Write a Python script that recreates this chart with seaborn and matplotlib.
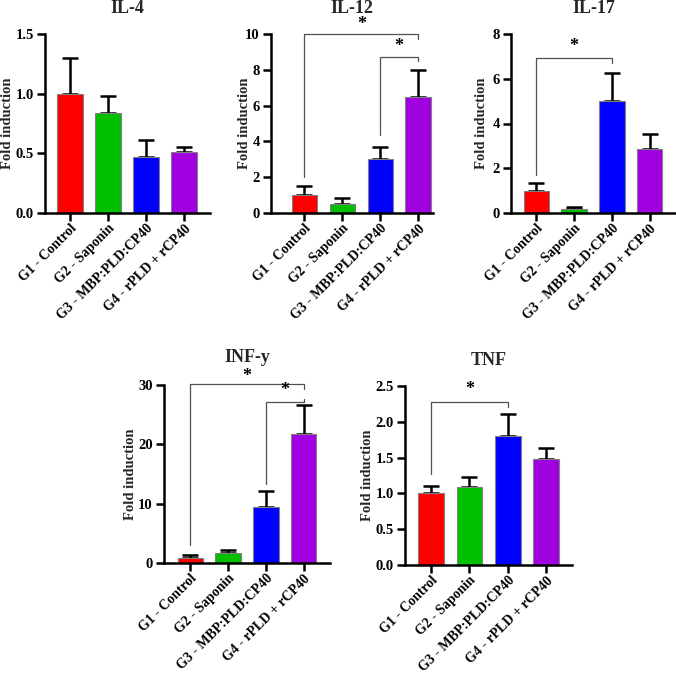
import matplotlib
matplotlib.use("Agg")
import matplotlib.pyplot as plt
import seaborn as sns
import pandas as pd
import numpy as np

sns.set_theme(style="ticks")
plt.rcParams['font.family'] = ['Liberation Serif', 'DejaVu Serif']
plt.rcParams['font.weight'] = 'bold'

groups = ["G1 - Control", "G2 - Saponin", "G3 - MBP:PLD:CP40", "G4 - rPLD + rCP40"]
colors = ["#FF0000", "#00C000", "#0000FF", "#A000E0"]

il4_mean = [1.00, 0.84, 0.47, 0.51]
il4_err = [0.30, 0.14, 0.14, 0.045]
il12_mean = [1.00, 0.50, 3.00, 6.50]
il12_err = [0.50, 0.32, 0.66, 1.50]
il17_mean = [0.99, 0.18, 4.99, 2.87]
il17_err = [0.33, 0.08, 1.25, 0.68]
infy_mean = [0.90, 1.70, 9.50, 21.75]
infy_err = [0.46, 0.56, 2.70, 4.85]
tnf_mean = [1.00, 1.085, 1.805, 1.475]
tnf_err = [0.106, 0.142, 0.30, 0.162]

il4_ticks = [0.0, 0.5, 1.0, 1.5]
il12_ticks = [0, 2, 4, 6, 8, 10]
il17_ticks = [0, 2, 4, 6, 8]
infy_ticks = [0, 10, 20, 30]
tnf_ticks = [0.0, 0.5, 1.0, 1.5, 2.0, 2.5]

# brackets: (i, j, bar height, left leg bottom, right leg bottom, star y)
il12_brackets = [(0, 3, 10.0, 2.0, 9.7, 10.55), (2, 3, 8.7, 4.35, 8.47, 9.3)]
il17_brackets = [(0, 2, 6.93, 1.68, 6.72, 7.45)]
infy_brackets = [(0, 3, 30.1, 3.0, 29.3, 31.4), (2, 3, 27.1, 13.3, 27.6, 29.0)]
tnf_brackets = [(0, 2, 2.28, 1.27, 2.21, 2.45)]

W, H = 676, 673
fig = plt.figure(figsize=(W / 100, H / 100), dpi=100)

def px_axes(l, r, t, b):
    return fig.add_axes([l / W, 1 - b / H, (r - l) / W, (b - t) / H])

panels = [
    ("IL-4", il4_mean, il4_err, il4_ticks, [], (45, 210, 34, 213), (-0.66, 3.68), "{:.1f}", 14, 15),
    ("IL-12", il12_mean, il12_err, il12_ticks, il12_brackets, (271, 433, 34, 213), (-0.88, 3.39), "{:d}", 251, 15),
    ("IL-17", il17_mean, il17_err, il17_ticks, il17_brackets, (511, 677, 34, 213), (-0.67, 3.72), "{:d}", 488, 15),
    ("INF-y", infy_mean, infy_err, infy_ticks, infy_brackets, (164, 330, 385, 563), (-0.70, 3.70), "{:d}", 137, 16.5),
    ("TNF", tnf_mean, tnf_err, tnf_ticks, tnf_brackets, (405, 572, 386, 565), (-0.68, 3.67), "{:.1f}", 374, 15),
]

for title, mean, err, ticks, brackets, pos, xlim, fmt, ylab_px, tpad in panels:
    ax = px_axes(*pos)
    df = pd.DataFrame({"group": groups, "value": mean})
    sns.barplot(data=df, x="group", y="value", hue="group", palette=colors,
                order=groups, hue_order=groups, errorbar=None, legend=False,
                saturation=1, width=0.67, edgecolor="#808080", linewidth=0.8,
                ax=ax, zorder=2)
    xs = np.arange(len(groups))
    ax.errorbar(xs, mean, yerr=[np.zeros(len(err)), err], fmt="none",
                ecolor="black", elinewidth=1.8, capsize=6, capthick=1.8, zorder=1)
    ax.set_xlim(*xlim)
    ax.set_ylim(0, ticks[-1])
    ax.set_yticks(ticks)
    ax.set_yticklabels([fmt.format(t) for t in ticks], fontsize=10.5, fontweight="bold")
    ax.set_xticks(xs)
    ax.set_xticklabels(groups, rotation=45, ha="right", rotation_mode="anchor",
                       fontsize=10, fontweight="bold")
    ax.set_xlabel("")
    ax.set_ylabel("Fold induction", fontsize=10.5, fontweight="bold")
    l, r = pos[0], pos[1]
    ax.yaxis.set_label_coords((ylab_px - l) / (r - l), 0.5)
    ax.set_title(title, fontsize=13, fontweight="bold", pad=tpad)
    for s in ["top", "right"]:
        ax.spines[s].set_visible(False)
    for s in ["left", "bottom"]:
        ax.spines[s].set_linewidth(1.8)
        ax.spines[s].set_color("black")
    ax.tick_params(axis="both", width=1.8, length=6, color="black", labelcolor="black", pad=2)
    ax.tick_params(axis="x", pad=0.5)
    ax.spines["bottom"].set_clip_on(False)
    for (i, j, h, y1, y2, sy) in brackets:
        ax.plot([i, i, j, j], [y1, h, h, y2], color="#505050", lw=0.9, clip_on=False, zorder=3)
        ax.text((i + j) / 2, sy, "*", ha="center", va="center", fontsize=13,
                fontweight="bold", color="black", clip_on=False)

fig.savefig("out.png", dpi=100)
